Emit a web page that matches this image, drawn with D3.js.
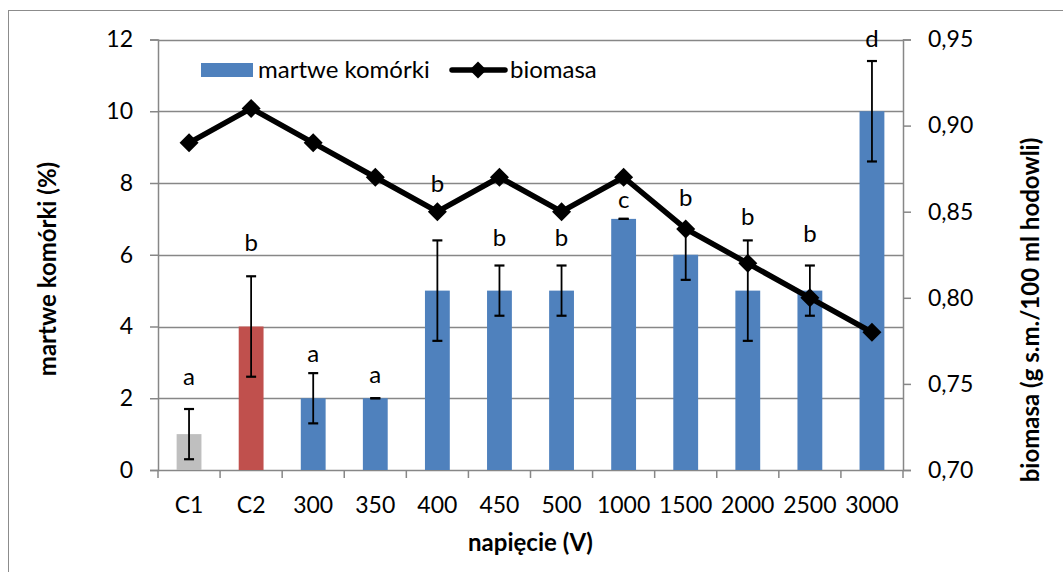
<!DOCTYPE html>
<html>
<head>
<meta charset="utf-8">
<script src="https://cdn.jsdelivr.net/npm/d3@7"></script>
<style>
  html, body { margin: 0; padding: 0; background: #fff; }
  svg { display: block; }
  text { font-family: Lato, "Noto Sans", sans-serif; fill: #000; }
</style>
</head>
<body>
<svg id="chart" width="1063" height="572"></svg>
<script>
// Categories (voltage) and measured series
const categories = ["C1", "C2", "300", "350", "400", "450", "500", "1000", "1500", "2000", "2500", "3000"];
const deadCells = [1, 4, 2, 2, 5, 5, 5, 7, 6, 5, 5, 10];            // martwe komórki (%)
const deadCellsErr = [0.7, 1.4, 0.7, 0, 1.4, 0.7, 0.7, 0, 0.7, 1.4, 0.7, 1.4];
const biomass = [0.89, 0.91, 0.89, 0.87, 0.85, 0.87, 0.85, 0.87, 0.84, 0.82, 0.80, 0.78]; // g s.m./100 ml
const groupLetters = ["a", "b", "a", "a", "b", "b", "b", "c", "b", "b", "b", "d"];
const letterLevel = [2.37, 6.11, 3.02, 2.43, 7.76, 6.24, 6.24, 7.29, 7.36, 6.83, 6.36, 11.8];
const leftTicks = [0, 2, 4, 6, 8, 10, 12];
const rightTicks = [0.70, 0.75, 0.80, 0.85, 0.90, 0.95];

const barColors = { C1: "#BFBFBF", C2: "#C0504D" };
const blue = "#4F81BD";
const gridColor = "#878787";
const tickFont = "23px";

const svg = d3.select("#chart");
const W = 1063, H = 572;

// outer frame
svg.append("rect").attr("x", 8.5).attr("y", 10.5).attr("width", W + 10).attr("height", H + 10)
  .attr("fill", "#fff").attr("stroke", "#8c8c8c").attr("stroke-width", 1);

const plot = { left: 158, right: 903, top: 39.5, bottom: 470 };

const x = d3.scaleBand().domain(categories).range([plot.left, plot.right]).paddingInner(0).paddingOuter(0);
const yL = d3.scaleLinear().domain([0, 12]).range([plot.bottom, plot.top]);
const yR = d3.scaleLinear().domain([0.70, 0.95]).range([plot.bottom, plot.top]);
const barW = x.bandwidth() / 2.5;

// horizontal gridlines
svg.append("g").selectAll("line").data(leftTicks.filter(d => d > 0)).join("line")
  .attr("x1", plot.left).attr("x2", plot.right)
  .attr("y1", d => Math.round(yL(d)) + 0.5).attr("y2", d => Math.round(yL(d)) + 0.5)
  .attr("stroke", gridColor).attr("stroke-width", 1.5);

// left axis
const gL = svg.append("g").attr("transform", `translate(${plot.left},0)`)
  .call(d3.axisLeft(yL).tickValues(leftTicks).tickSize(8).tickPadding(17).tickFormat(d3.format("d")));
// right axis
const gR = svg.append("g").attr("transform", `translate(${plot.right},0)`)
  .call(d3.axisRight(yR).tickValues(rightTicks).tickSize(8).tickPadding(17).tickFormat(d => d3.format(".2f")(d).replace(".", ",")));
// bottom axis: ticks at category boundaries
const gB = svg.append("g").attr("transform", `translate(0,${plot.bottom})`)
  .call(d3.axisBottom(x).tickSize(0).tickPadding(27));
gB.selectAll(".bound").data(d3.range(categories.length + 1)).join("line").attr("class", "bound")
  .attr("x1", i => plot.left + i * x.step()).attr("x2", i => plot.left + i * x.step())
  .attr("y1", 0).attr("y2", 8).attr("stroke", gridColor).attr("stroke-width", 1.5);

[gL, gR, gB].forEach(g => {
  g.select(".domain").attr("stroke", gridColor).attr("stroke-width", 1.5);
  g.selectAll(".tick line").attr("stroke", gridColor).attr("stroke-width", 1.5);
  g.selectAll("text").style("font-size", tickFont).style("font-family", "Lato, sans-serif").attr("fill", "#000");
});
gB.select(".domain").attr("d", `M${plot.left},0.5H${plot.right}`);

// bars
svg.append("g").selectAll("rect").data(categories).join("rect")
  .attr("x", d => x(d) + (x.bandwidth() - barW) / 2)
  .attr("width", barW)
  .attr("y", (d, i) => yL(deadCells[i]))
  .attr("height", (d, i) => plot.bottom - yL(deadCells[i]))
  .attr("fill", d => barColors[d] || blue);

// error bars
const eg = svg.append("g").attr("stroke", "#000").attr("stroke-width", 1.8);
categories.forEach((c, i) => {
  const cx = x(c) + x.bandwidth() / 2;
  const hi = yL(deadCells[i] + deadCellsErr[i]), lo = yL(deadCells[i] - deadCellsErr[i]);
  if (deadCellsErr[i] > 0) eg.append("line").attr("x1", cx).attr("x2", cx).attr("y1", hi).attr("y2", lo);
  eg.append("line").attr("x1", cx - 5).attr("x2", cx + 5).attr("y1", hi).attr("y2", hi).attr("stroke-width", 2.2);
  eg.append("line").attr("x1", cx - 5).attr("x2", cx + 5).attr("y1", lo).attr("y2", lo).attr("stroke-width", 2.2);
});

// significance letters
svg.append("g").selectAll("text").data(categories).join("text")
  .attr("x", d => x(d) + x.bandwidth() / 2)
  .attr("y", (d, i) => yL(letterLevel[i]))
  .attr("text-anchor", "middle").style("font-size", "24px")
  .text((d, i) => groupLetters[i]);

// biomass line with diamond markers
const line = d3.line().x((d, i) => x(categories[i]) + x.bandwidth() / 2).y(d => yR(d));
svg.append("path").datum(biomass).attr("d", line)
  .attr("fill", "none").attr("stroke", "#000").attr("stroke-width", 5.5).attr("stroke-linejoin", "round");
const diamond = (r) => `M0,${-r}L${r},0L0,${r}L${-r},0Z`;
svg.append("g").selectAll("path").data(biomass).join("path")
  .attr("transform", (d, i) => `translate(${x(categories[i]) + x.bandwidth() / 2},${yR(d)})`)
  .attr("d", diamond(9.5)).attr("fill", "#000");

// legend
const lg = svg.append("g");
lg.append("rect").attr("x", 201).attr("y", 63).attr("width", 52).attr("height", 14).attr("fill", blue);
lg.append("text").attr("x", 258).attr("y", 78).style("font-size", "24px").text("martwe komórki");
lg.append("line").attr("x1", 452).attr("x2", 505).attr("y1", 70).attr("y2", 70)
  .attr("stroke", "#000").attr("stroke-width", 5.5).attr("stroke-linecap", "round");
lg.append("path").attr("transform", "translate(478,70)").attr("d", diamond(8.5)).attr("fill", "#000");
lg.append("text").attr("x", 510).attr("y", 78).style("font-size", "24px").text("biomasa");

// axis titles
const titleFont = "24px";
svg.append("text").attr("x", (plot.left + plot.right) / 2).attr("y", 551)
  .attr("text-anchor", "middle").style("font-size", titleFont).style("font-weight", "bold").text("napięcie (V)");
svg.append("text").attr("transform", `translate(56,269) rotate(-90)`)
  .attr("text-anchor", "middle").style("font-size", titleFont).style("font-weight", "bold").text("martwe komórki (%)");
svg.append("text").attr("transform", `translate(1039,310) rotate(-90)`)
  .attr("text-anchor", "middle").style("font-size", titleFont).style("font-weight", "bold").text("biomasa (g s.m./100 ml hodowli)");
</script>
</body>
</html>
